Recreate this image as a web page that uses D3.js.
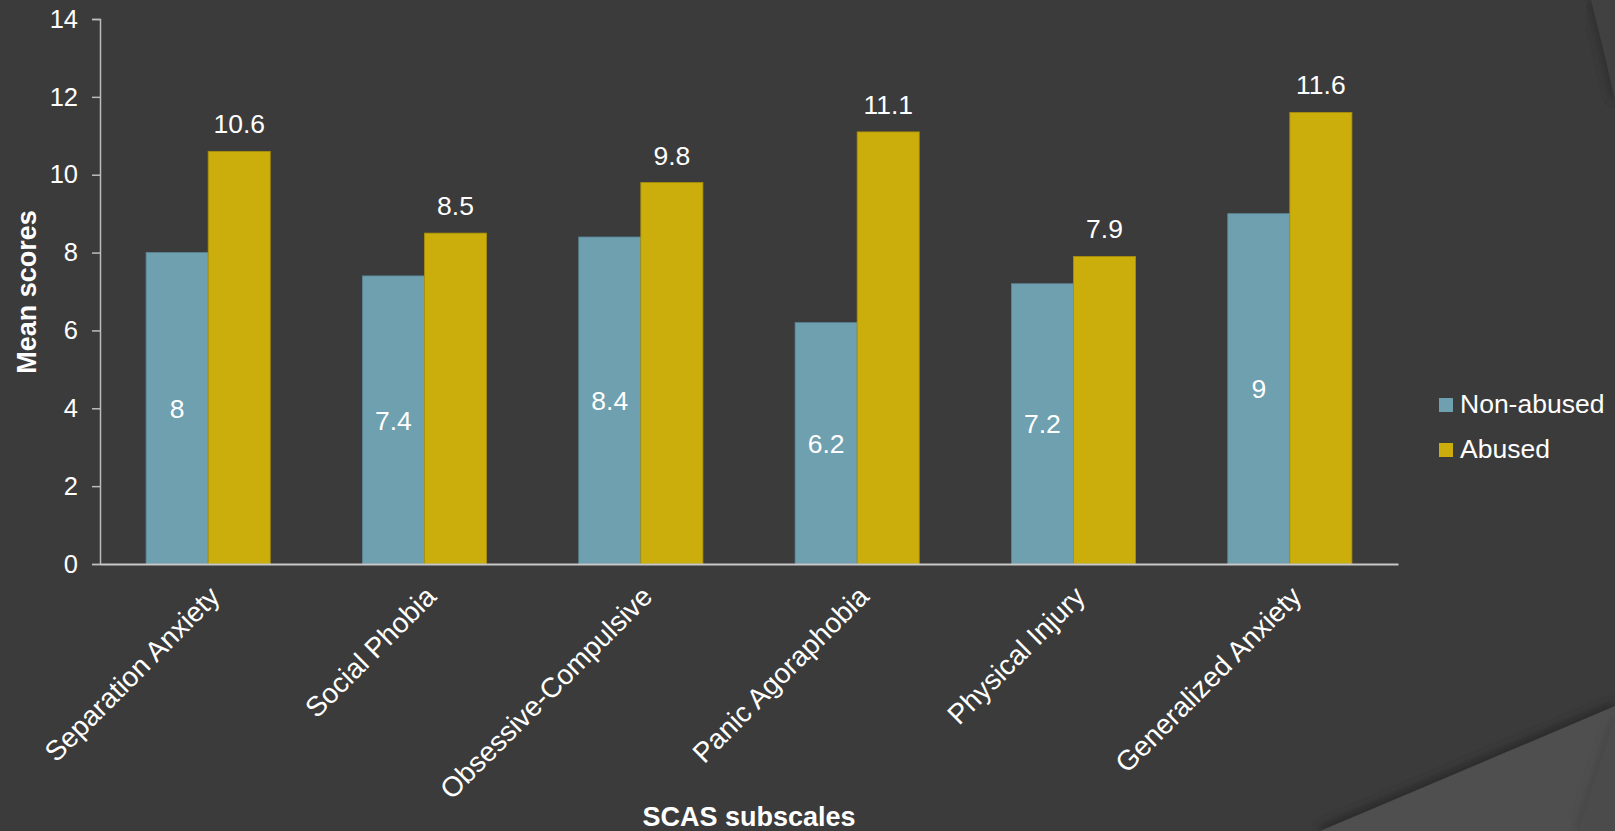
<!DOCTYPE html>
<html>
<head>
<meta charset="utf-8">
<script src="https://cdn.jsdelivr.net/npm/d3@7"></script>
<style>
  html, body { margin: 0; padding: 0; background: #3b3b3b; overflow: hidden; }
  svg { display: block; font-family: "Liberation Sans", Arial, sans-serif; }
</style>
</head>
<body>
<svg id="chart" width="1615" height="831"></svg>
<script>
// SCAS subscale means by group
const categories = ["Separation Anxiety", "Social Phobia", "Obsessive-Compulsive",
                    "Panic Agoraphobia", "Physical Injury", "Generalized Anxiety"];
const series = ["Non-abused", "Abused"];
const nonAbused = [8, 7.4, 8.4, 6.2, 7.2, 9];
const abused = [10.6, 8.5, 9.8, 11.1, 7.9, 11.6];
const yTicks = [0, 2, 4, 6, 8, 10, 12, 14];
const colors = ["#6fa0b0", "#cbae0b"];
const edgeColors = ["#5a8797", "#a88f08"];

const svg = d3.select("#chart");
const W = 1615, H = 831;

// ---- background theme decoration ----
const defs = svg.append("defs");
const blur = defs.append("filter").attr("id", "soft").attr("x", "-20%").attr("y", "-20%")
  .attr("width", "140%").attr("height", "140%");
blur.append("feGaussianBlur").attr("stdDeviation", 4);

svg.append("rect").attr("width", W).attr("height", H).attr("fill", "#3b3b3b");

const deco = svg.append("g");
// upper right arc
deco.append("path").attr("d", "M1591,0 Q1604,50 1615,100")
  .attr("fill", "none").attr("stroke", "#2e2e2e").attr("stroke-width", 8).attr("filter", "url(#soft)");
deco.append("path").attr("d", "M1591,0 Q1604,50 1615,100 L1615,0 Z").attr("fill", "#414141");
// lower right sweep
deco.append("path").attr("d", "M1320,831 Q1460,772 1615,706")
  .attr("fill", "none").attr("stroke", "#2c2c2c").attr("stroke-width", 10).attr("filter", "url(#soft)");
deco.append("path").attr("d", "M1320,831 Q1460,772 1615,706 L1615,831 Z").attr("fill", "#4f4f4f");
deco.append("path").attr("d", "M1578,831 Q1596,775 1615,718")
  .attr("fill", "none").attr("stroke", "#434343").attr("stroke-width", 6).attr("filter", "url(#soft)");
deco.append("path").attr("d", "M1578,831 Q1596,775 1615,718 L1615,831 Z").attr("fill", "#4b4b4b");

// ---- scales ----
const plot = { left: 100, right: 1398, top: 19, bottom: 564 };
const x0 = d3.scaleBand().domain(categories).range([plot.left, plot.right])
  .paddingInner(0.426).paddingOuter(0.213);
const x1 = d3.scaleBand().domain(series).range([0, x0.bandwidth()]);
const y = d3.scaleLinear().domain([0, 14]).range([plot.bottom, plot.top]);

const rows = categories.map((c, i) => ({ cat: c, vals: [nonAbused[i], abused[i]] }));

// ---- bars ----
const groups = svg.append("g").selectAll("g").data(rows).join("g")
  .attr("transform", d => `translate(${x0(d.cat)},0)`);

groups.selectAll("rect").data(d => d.vals.map((v, k) => ({ k, v }))).join("rect")
  .attr("x", d => x1(series[d.k]))
  .attr("y", d => y(d.v))
  .attr("width", x1.bandwidth())
  .attr("height", d => y(0) - y(d.v))
  .attr("fill", d => colors[d.k])
  .attr("stroke", d => edgeColors[d.k])
  .attr("stroke-width", 0.8);

// value labels: inside (centered) for non-abused, above for abused
groups.append("text")
  .attr("x", x1(series[0]) + x1.bandwidth() / 2)
  .attr("y", d => y(d.vals[0] / 2))
  .attr("dy", "0.36em")
  .attr("text-anchor", "middle")
  .attr("fill", "#ffffff").attr("font-size", 26.5)
  .text(d => d.vals[0]);

groups.append("text")
  .attr("x", x1(series[1]) + x1.bandwidth() / 2)
  .attr("y", d => y(d.vals[1]) - 18)
  .attr("text-anchor", "middle")
  .attr("fill", "#ffffff").attr("font-size", 26.5)
  .text(d => d.vals[1]);

// ---- y axis ----
const yAxis = svg.append("g").attr("transform", `translate(${plot.left},0)`)
  .call(d3.axisLeft(y).tickValues(yTicks).tickSize(8).tickPadding(14).tickFormat(d3.format("d")));
yAxis.select(".domain").attr("stroke", "#bdbdbd").attr("stroke-width", 1.5);
yAxis.selectAll(".tick line").attr("stroke", "#bdbdbd").attr("stroke-width", 1.5);
yAxis.selectAll(".tick text").attr("fill", "#ffffff").attr("font-size", 25.5)
  .attr("font-family", "Liberation Sans, Arial, sans-serif");

// ---- x axis ----
const xAxis = svg.append("g").attr("transform", `translate(0,${plot.bottom})`)
  .call(d3.axisBottom(x0).tickSize(0).tickFormat(""));
xAxis.select(".domain").attr("stroke", "#c8c8c8").attr("stroke-width", 2);

svg.append("g").selectAll("text").data(categories).join("text")
  .attr("transform", c => `translate(${x0(c) + x0.bandwidth() / 2 - 3},${plot.bottom + 18}) rotate(-45)`)
  .attr("dy", 23)
  .attr("text-anchor", "end")
  .attr("fill", "#ffffff").attr("font-size", 28)
  .text(c => c);

// ---- axis titles ----
svg.append("text")
  .attr("transform", `translate(36,292) rotate(-90)`)
  .attr("text-anchor", "middle").attr("fill", "#ffffff")
  .attr("font-size", 27).attr("font-weight", "bold")
  .text("Mean scores");

svg.append("text")
  .attr("x", (plot.left + plot.right) / 2)
  .attr("y", 826)
  .attr("text-anchor", "middle").attr("fill", "#ffffff")
  .attr("font-size", 27).attr("font-weight", "bold")
  .text("SCAS subscales");

// ---- legend ----
const legend = svg.append("g").attr("transform", "translate(1439,398)");
const li = legend.selectAll("g").data(series).join("g")
  .attr("transform", (d, i) => `translate(0,${i * 45})`);
li.append("rect").attr("width", 14).attr("height", 14).attr("fill", (d, i) => colors[i]);
li.append("text").attr("x", 21).attr("y", 15)
  .attr("fill", "#ffffff").attr("font-size", 26.5).text(d => d);
</script>
</body>
</html>
